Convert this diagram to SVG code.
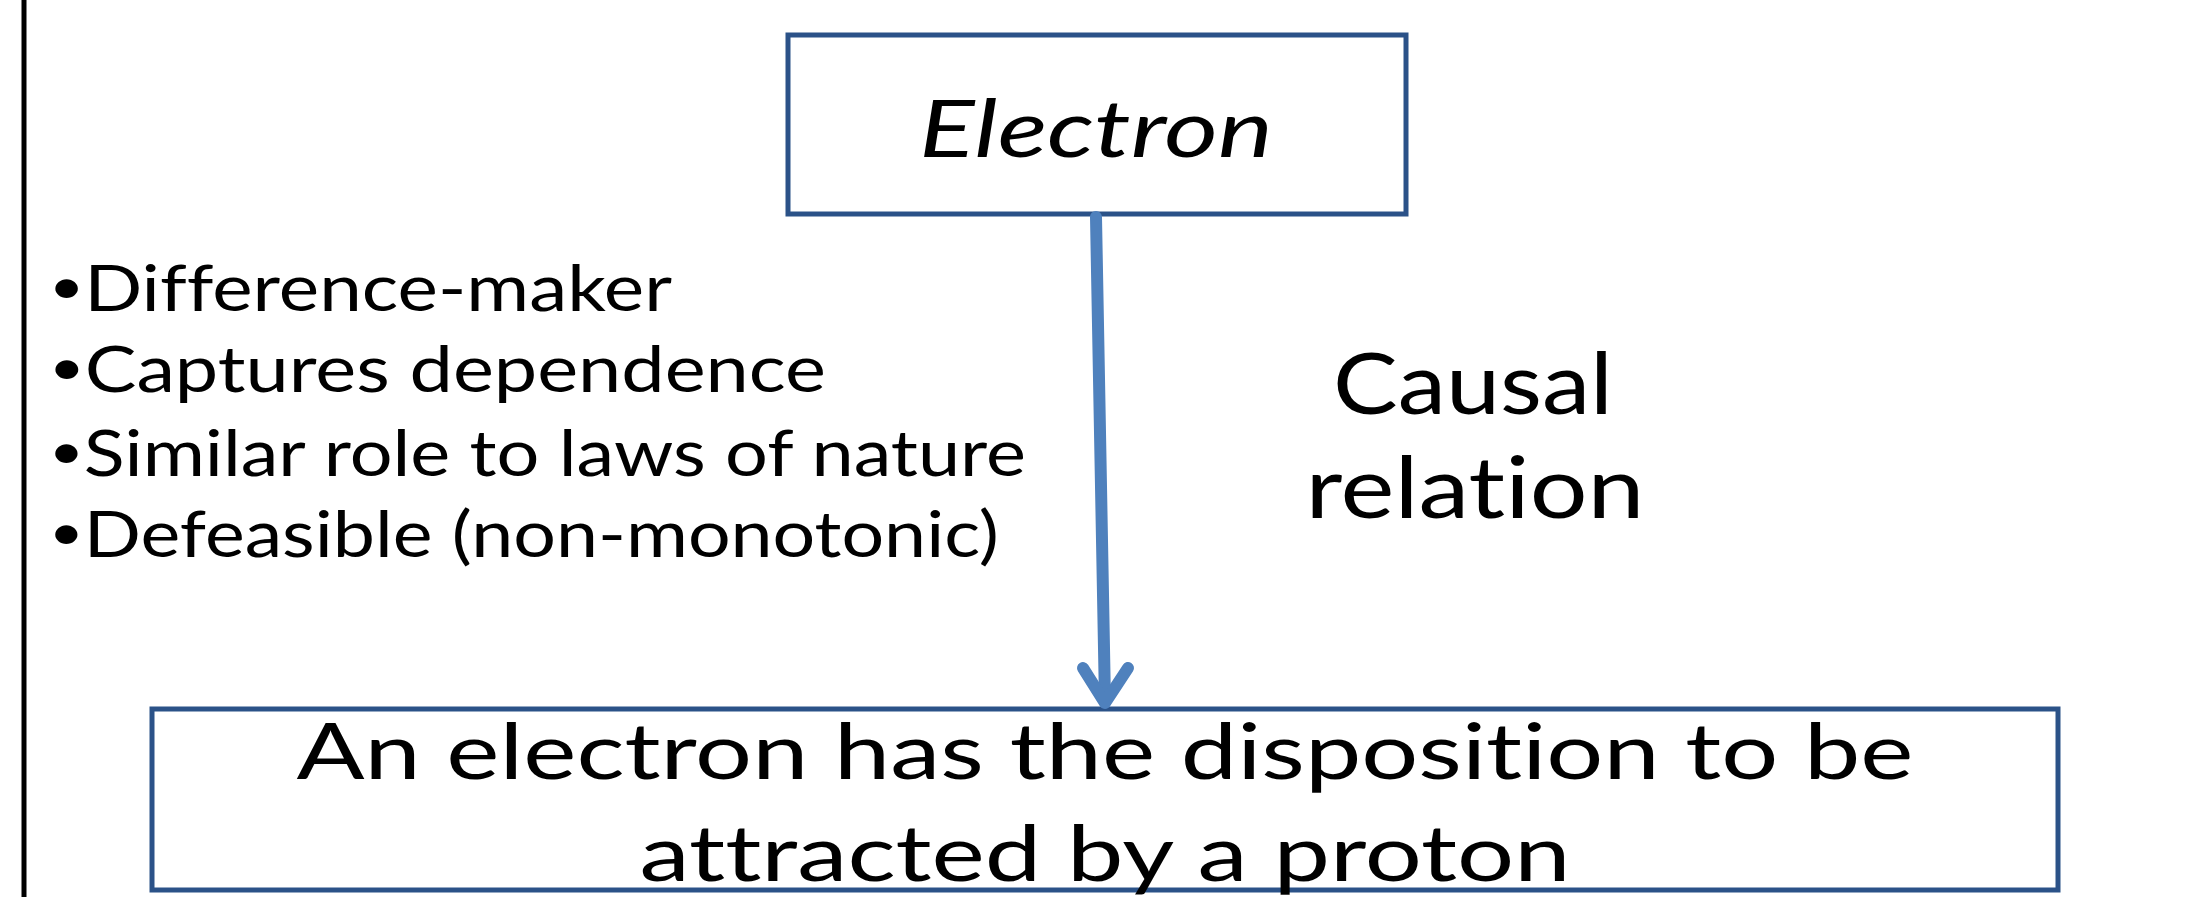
<svg xmlns="http://www.w3.org/2000/svg" width="2194" height="897" viewBox="0 0 2194 897">
<style>
.box{fill:#ffffff;stroke:#2B5288;stroke-width:5}
.t{font-family:Lato,"Open Sans","Liberation Sans",sans-serif;fill:#000;font-variant-ligatures:none;font-feature-settings:"liga" 0,"clig" 0}
.b{font-size:50px}
.conn{stroke:#4F81BD;stroke-width:12;fill:none;stroke-linecap:round;stroke-linejoin:round}
</style>
<rect width="2194" height="897" fill="#ffffff"/>
<line x1="24" y1="0" x2="24" y2="897" stroke="#000" stroke-width="5"/>
<g id="electron">
<rect class="box" x="788" y="35" width="618" height="179"/>
<text class="t" x="1096" y="157" font-size="80" font-style="italic" text-anchor="middle" textLength="354" lengthAdjust="spacingAndGlyphs">Electron</text>
</g>
<g id="disposition">
<rect class="box" x="152" y="709" width="1906" height="181"/>
<text class="t" x="1105" y="779" font-size="78" text-anchor="middle" textLength="1617" lengthAdjust="spacingAndGlyphs">An electron has the disposition to be</text>
<text class="t" x="1105" y="881" font-size="78" text-anchor="middle" textLength="931" lengthAdjust="spacingAndGlyphs">attracted by a proton</text>
</g>
<g id="bullets">
<text class="t" x="49" y="311" font-size="63" textLength="623" lengthAdjust="spacingAndGlyphs"><tspan class="b" dy="-7">•</tspan><tspan dy="7">Difference-maker</tspan></text>
<text class="t" x="49" y="392" font-size="63" textLength="777" lengthAdjust="spacingAndGlyphs"><tspan class="b" dy="-7">•</tspan><tspan dy="7">Captures dependence</tspan></text>
<text class="t" x="49" y="476" font-size="63" textLength="977" lengthAdjust="spacingAndGlyphs"><tspan class="b" dy="-7">•</tspan><tspan dy="7">Similar role to laws of nature</tspan></text>
<text class="t" x="49" y="557" font-size="63" textLength="950" lengthAdjust="spacingAndGlyphs"><tspan class="b" dy="-7">•</tspan><tspan dy="7">Defeasible (non-monotonic)</tspan></text>
</g>
<g id="causal-label">
<text class="t" x="1473" y="414" font-size="86" text-anchor="middle" textLength="280" lengthAdjust="spacingAndGlyphs">Causal</text>
<text class="t" x="1475" y="518" font-size="86" text-anchor="middle" textLength="339" lengthAdjust="spacingAndGlyphs">relation</text>
</g>
<g id="connectors">
<line class="conn" x1="1096" y1="217" x2="1105" y2="702"/>
<polyline class="conn" points="1083,668 1105,703 1128,668"/>
</g>
</svg>
